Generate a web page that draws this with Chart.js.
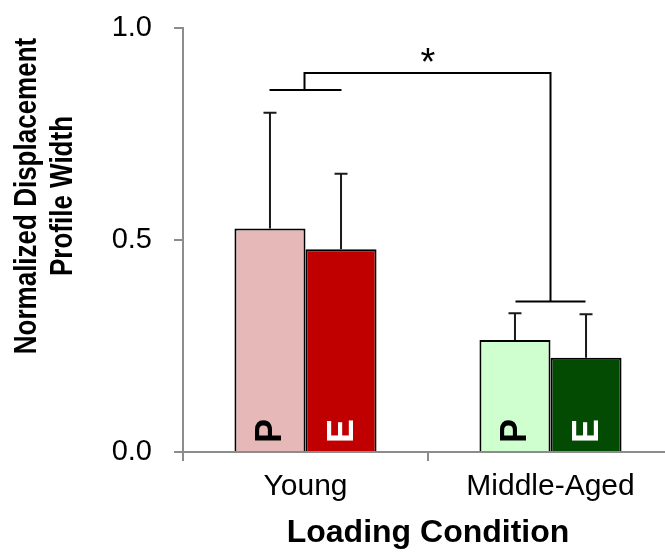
<!DOCTYPE html>
<html>
<head>
<meta charset="utf-8">
<script src="https://cdn.jsdelivr.net/npm/chart.js@4.4.0/dist/chart.umd.min.js"></script>
<style>
  html, body { margin: 0; padding: 0; background: #fff; overflow: hidden; }
  #wrap { width: 673px; height: 552px; }
</style>
</head>
<body>
<div id="wrap"><canvas id="widthChart" width="673" height="552"></canvas></div>
<script>
// Chart data
const categories = ['Young', 'Middle-Aged'];
const seriesLetters = ['P', 'E'];
const pValues = [0.527, 0.264];
const pErrors = [0.273, 0.063];
const eValues = [0.478, 0.222];
const eErrors = [0.178, 0.103];
const yTicks = [0, 0.5, 1.0];
const yTitle = ['Normalized Displacement', 'Profile Width'];
const xTitle = 'Loading Condition';
// significance bracket (data units) and its label
const bracketFeet = [0.854, 0.355];
const bracketTop = 0.894;
const sigLabel = '*';

const FONT = "'Liberation Sans', Arial, sans-serif";
const AXIS_GREY = '#8c8c8c';

/**
 * Draws error bars, P/E letters, the significance bracket and the y title
 */
const extrasPlugin = {
    id: 'extras',
    afterDatasetsDraw(chart) {
        const ctx = chart.ctx;
        const yScale = chart.scales.y;
        const xScale = chart.scales.x;
        const errors = [pErrors, eErrors];
        const letterColors = ['#000', '#fff'];

        ctx.save();
        chart.data.datasets.forEach((ds, di) => {
            chart.getDatasetMeta(di).data.forEach((bar, i) => {
                // error bar
                const top = yScale.getPixelForValue(ds.data[i] + errors[di][i]);
                ctx.strokeStyle = '#1a1a1a';
                ctx.lineWidth = 2;
                ctx.beginPath();
                ctx.moveTo(bar.x, bar.y);
                ctx.lineTo(bar.x, top);
                ctx.moveTo(bar.x - 6.5, top);
                ctx.lineTo(bar.x + 6.5, top);
                ctx.stroke();

                // rotated letter at the foot of the bar
                ctx.save();
                ctx.translate(bar.x + 11.5, yScale.bottom - 21);
                ctx.rotate(-Math.PI / 2);
                ctx.fillStyle = letterColors[di];
                ctx.font = 'bold 36px ' + FONT;
                ctx.textAlign = 'center';
                ctx.textBaseline = 'alphabetic';
                ctx.fillText(seriesLetters[di], 0, 0);
                ctx.restore();
            });
        });

        // significance bracket
        const cx0 = xScale.getPixelForValue(0);
        const cx1 = xScale.getPixelForValue(1);
        const yFoot0 = yScale.getPixelForValue(bracketFeet[0]);
        const yFoot1 = yScale.getPixelForValue(bracketFeet[1]);
        const yTop = yScale.getPixelForValue(bracketTop);
        ctx.strokeStyle = '#000';
        ctx.lineWidth = 2;
        ctx.beginPath();
        ctx.moveTo(cx0 - 36, yFoot0);
        ctx.lineTo(cx0 + 36, yFoot0);
        ctx.moveTo(cx0 - 1, yFoot0);
        ctx.lineTo(cx0 - 1, yTop);
        ctx.lineTo(cx1, yTop);
        ctx.lineTo(cx1, yFoot1);
        ctx.moveTo(cx1 - 35, yFoot1);
        ctx.lineTo(cx1 + 35, yFoot1);
        ctx.stroke();

        ctx.fillStyle = '#000';
        ctx.font = '38px ' + FONT;
        ctx.textAlign = 'center';
        ctx.textBaseline = 'alphabetic';
        ctx.fillText(sigLabel, (cx0 + cx1) / 2, 75);

        // y axis title, two rotated lines
        ctx.font = 'bold 26px ' + FONT;
        ctx.textBaseline = 'middle';
        const lineX = [27, 63];
        yTitle.forEach((line, k) => {
            ctx.save();
            ctx.translate(lineX[k], 196);
            ctx.rotate(-Math.PI / 2);
            ctx.scale(1, 1.2);
            ctx.fillText(line, 0, 0);
            ctx.restore();
        });
        ctx.restore();
    }
};

new Chart(document.getElementById('widthChart'), {
    type: 'bar',
    data: {
        labels: categories,
        datasets: [
            {
                label: seriesLetters[0],
                data: pValues,
                backgroundColor: ['#e6b9b8', '#cfffcf'],
                borderColor: '#000',
                borderWidth: 2,
                categoryPercentage: 0.58,
                barPercentage: 1
            },
            {
                label: seriesLetters[1],
                data: eValues,
                backgroundColor: ['#c00000', '#034b03'],
                borderColor: '#000',
                borderWidth: 2,
                categoryPercentage: 0.58,
                barPercentage: 1
            }
        ]
    },
    options: {
        responsive: false,
        animation: false,
        layout: { padding: { top: 28, left: 0, right: 0, bottom: 0 } },
        plugins: {
            legend: { display: false },
            tooltip: { enabled: false }
        },
        scales: {
            x: {
                grid: { drawOnChartArea: false, tickLength: 9, color: AXIS_GREY, lineWidth: 2, offset: true },
                border: { color: AXIS_GREY, width: 2 },
                ticks: { color: '#000', font: { family: FONT, size: 30 }, padding: 8 },
                title: {
                    display: true,
                    text: xTitle,
                    color: '#000',
                    font: { family: FONT, size: 32, weight: 'bold' },
                    padding: { top: 0, bottom: 0 }
                },
                afterFit: scale => { scale.height = 100; }
            },
            y: {
                min: 0,
                max: 1,
                grid: { drawOnChartArea: false, tickLength: 9, color: AXIS_GREY, lineWidth: 2 },
                border: { color: AXIS_GREY, width: 2 },
                ticks: {
                    color: '#000',
                    font: { family: FONT, size: 29 },
                    padding: 22,
                    callback: v => v.toFixed(1)
                },
                afterBuildTicks: scale => { scale.ticks = yTicks.map(v => ({ value: v })); },
                afterFit: scale => {
                    scale.width = 183;
                    scale.paddingTop = 0;
                    scale.paddingBottom = 0;
                }
            }
        }
    },
    plugins: [extrasPlugin]
});
</script>
</body>
</html>
